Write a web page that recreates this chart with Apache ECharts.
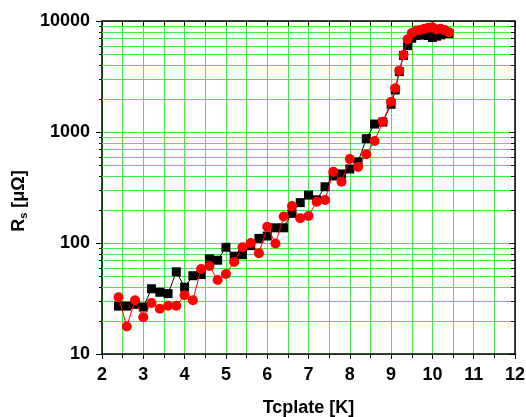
<!DOCTYPE html>
<html>
<head>
<meta charset="utf-8">
<script src="https://cdn.jsdelivr.net/npm/echarts@6/dist/echarts.min.js"></script>
<style>
html,body{margin:0;padding:0;background:#fff;}
#chart{width:526px;height:417px;}
</style>
</head>
<body>
<div id="chart"></div>
<script>
const xBlack = [2.4,2.6,2.8,3.0,3.2,3.4,3.6,3.8,4.0,4.2,4.4,4.6,4.8,5.0,5.2,5.4,5.6,5.8,6.0,6.2,6.4,6.6,6.8,7.0,7.2,7.4,7.6,7.8,8.0,8.2,8.4,8.6,8.8,9.0,9.1,9.2,9.3,9.4,9.5,9.6,9.7,9.8,9.9,10.0,10.1,10.2,10.3,10.4];
const yBlack = [27,27,28,26.5,38.7,36,35,55,40,50.7,52,72,70,91.5,76,78.5,94.6,110,115.6,137,137,185,231,270,245,321,402,419,464,537,871,1180,1230,1778,2390,3500,4900,6000,7000,7400,7500,7500,7400,7100,7300,7500,7800,7700];
const xRed = [2.4,2.6,2.8,3.0,3.2,3.4,3.6,3.8,4.0,4.2,4.4,4.6,4.8,5.0,5.2,5.4,5.6,5.8,6.0,6.2,6.4,6.6,6.8,7.0,7.2,7.4,7.6,7.8,8.0,8.2,8.4,8.6,8.8,9.0,9.1,9.2,9.3,9.4,9.5,9.6,9.7,9.8,9.9,10.0,10.1,10.2,10.3,10.4];
const yRed = [32.4,17.7,30.5,21.4,28.8,25.6,27.2,27.2,33.8,30.5,58.3,62,46.4,52.6,67.4,91.5,100,81,140,99,173,215,167,175,235,244,438,357,571,484,630,830,1239,1875,2478,3565,4943,6840,7800,8200,8300,8500,8700,8800,8400,8500,8300,7900];
const minorGridValues = [20,30,40,50,60,70,80,90,200,300,400,500,600,700,800,900,2000,3000,4000,5000,6000,7000,8000,9000];
const xName = 'Tcplate [K]';

const GREEN = '#44ea44';
const FONT = 'Liberation Sans, Arial, sans-serif';
const chart = echarts.init(document.getElementById('chart'), null, {renderer:'canvas'});

const baseX = { type:'value', min:2, max:12, interval:1 };
const baseY = { type:'log', logBase:10, min:10, max:10000 };

chart.setOption({
  animation:false,
  grid:{left:102, right:11, top:21, bottom:63, containLabel:false, outerBoundsMode:'none'},
  xAxis:[
    Object.assign({}, baseX, {
      position:'bottom',
      name:xName, nameLocation:'middle', nameGap:45,
      nameTextStyle:{fontFamily:FONT, fontWeight:'bold', fontSize:18, color:'#000'},
      axisLine:{show:true, onZero:false, lineStyle:{color:'#000', width:1.5}},
      axisTick:{show:true, inside:false, length:5, lineStyle:{color:'#000', width:1}},
      minorTick:{show:true, splitNumber:2, length:4, lineStyle:{color:'#000', width:1}},
      axisLabel:{margin:12, fontFamily:FONT, fontWeight:'bold', fontSize:18, color:'#000'},
      splitLine:{show:true, lineStyle:{color:GREEN, width:1}},
      minorSplitLine:{show:true, lineStyle:{color:GREEN, width:1}}
    }),
    Object.assign({}, baseX, {
      position:'top',
      axisLine:{show:true, onZero:false, lineStyle:{color:'#000', width:1.5}},
      axisTick:{show:true, inside:true, length:5, lineStyle:{color:'#000', width:1}},
      minorTick:{show:true, splitNumber:2, length:5, lineStyle:{color:'#000', width:1}},
      axisLabel:{show:false},
      splitLine:{show:false},
      minorSplitLine:{show:false}
    })
  ],
  yAxis:[
    Object.assign({}, baseY, {
      position:'left',
      axisLine:{show:true, onZero:false, lineStyle:{color:'#000', width:1.5}},
      axisTick:{show:true, inside:false, length:6, lineStyle:{color:'#000', width:1}},
      minorTick:{show:false},
      minorSplitLine:{show:false},
      axisLabel:{margin:12, fontFamily:FONT, fontWeight:'bold', fontSize:18, color:'#000',
        formatter:function(v){return String(Math.round(v));}},
      splitLine:{show:true, lineStyle:{color:GREEN, width:1}}
    }),
    Object.assign({}, baseY, {
      position:'right',
      axisLine:{show:true, onZero:false, lineStyle:{color:'#000', width:1.5}},
      axisTick:{show:true, inside:true, length:6, lineStyle:{color:'#000', width:1}},
      minorTick:{show:false},
      minorSplitLine:{show:false},
      axisLabel:{show:false},
      splitLine:{show:false}
    })
  ],
  graphic:[{
    type:'text',
    x:10, y:201,
    rotation:Math.PI/2,
    style:{
      text:'R{s|s} [μΩ]',
      fontFamily:FONT, fontWeight:'bold', fontSize:18, fill:'#000',
      align:'center', verticalAlign:'top',
      rich:{s:{fontFamily:FONT, fontWeight:'bold', fontSize:11, fill:'#000', verticalAlign:'bottom', padding:[8,0,0,0]}}
    }
  }],
  series:[
    {
      type:'custom', z:1, silent:true, clip:false, xAxisIndex:0, yAxisIndex:0,
      data:minorGridValues.map(v => [v]),
      renderItem:function(params, api){
        const v = api.value(0);
        const pl = api.coord([2, v]);
        const pr = api.coord([12, v]);
        const y = Math.round(pl[1]) + 0.5;
        return {type:'group', children:[
          {type:'line', shape:{x1:pl[0], y1:y, x2:pr[0], y2:y}, style:{stroke:GREEN, lineWidth:1}, z2:0},
          {type:'line', shape:{x1:pl[0]-3, y1:y, x2:pl[0], y2:y}, style:{stroke:'#000', lineWidth:1}, z2:1},
          {type:'line', shape:{x1:pr[0]-4, y1:y, x2:pr[0], y2:y}, style:{stroke:'#000', lineWidth:1}, z2:1}
        ]};
      }
    },
    {
      type:'line', name:'black', z:3, xAxisIndex:0, yAxisIndex:0,
      data:xBlack.map((x,i)=>[x,yBlack[i]]),
      symbol:'rect', symbolSize:9, showAllSymbol:true,
      itemStyle:{color:'#000'},
      lineStyle:{color:'#000', width:1}
    },
    {
      type:'line', name:'red', z:4, xAxisIndex:0, yAxisIndex:0,
      data:xRed.map((x,i)=>[x,yRed[i]]),
      symbol:'circle', symbolSize:10, showAllSymbol:true,
      itemStyle:{color:'#ff0000'},
      lineStyle:{color:'#ff0000', width:1}
    }
  ]
});
</script>
</body>
</html>
